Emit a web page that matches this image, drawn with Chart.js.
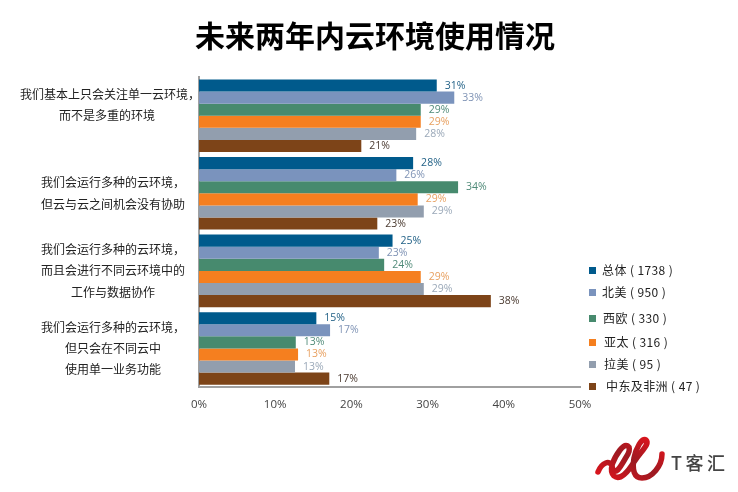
<!DOCTYPE html>
<html>
<head>
<meta charset="utf-8">
<script src="https://cdn.jsdelivr.net/npm/chart.js@4/dist/chart.umd.min.js"></script>
<style>
html, body { margin: 0; padding: 0; background: #fff; overflow: hidden; }
#wrap { position: relative; width: 738px; height: 492px; font-family: "Noto Sans CJK SC", sans-serif; }
#title { position: absolute; left: 0; top: 13px; width: 750px; text-align: center; font-size: 30px; font-weight: 700; line-height: 42px; color: #000; }
.lg { position: absolute; font-size: 12px; line-height: 16px; color: #222; white-space: pre; letter-spacing: 0.4px; }
.sw { position: absolute; width: 7px; height: 7px; }
#logo { position: absolute; left: 590px; top: 432px; }
#logoText { position: absolute; left: 671px; top: 450px; font-size: 18px; font-weight: 500; line-height: 24px; letter-spacing: 3.5px; color: #444; }
</style>
</head>
<body>
<div id="wrap">
  <canvas id="chart" width="738" height="492"></canvas>
  <div id="title">未来两年内云环境使用情况</div>
  <svg id="logo" width="80" height="58" viewBox="0 0 80 58">
    <defs>
      <linearGradient id="logoRed" x1="0" y1="1" x2="1" y2="0">
        <stop offset="0" stop-color="#e0141c"/>
        <stop offset="0.5" stop-color="#9c1a22"/>
        <stop offset="1" stop-color="#e8141c"/>
      </linearGradient>
    </defs>
    <path d="M8 40 C12 30 20 28 22 34 C25 48 33 30 38 22 C42 14 36 10 30 18 C24 26 18 38 24 44 C30 49 38 40 44 30 C52 18 60 12 56 8 C52 5 46 16 44 26 C42 38 44 46 52 46 C62 46 72 34 72 22"
          fill="none" stroke="url(#logoRed)" stroke-width="5.5" stroke-linecap="round"/>
  </svg>
  <div id="logoText">T客汇</div>
</div>
<script>
const categories = [
    ['我们基本上只会关注单一云环境，　', '而不是多重的环境　', ''],
    ['我们会运行多种的云环境，', '但云与云之间机会没有协助'],
    ['我们会运行多种的云环境，', '而且会进行不同云环境中的', '工作与数据协作'],
    ['我们会运行多种的云环境，', '但只会在不同云中', '使用单一业务功能']
];
const xTicks = [0, 10, 20, 30, 40, 50];

const seriesNames = ['总体', '北美', '西欧', '亚太', '拉美', '中东及非洲'];
const seriesCounts = [1738, 950, 330, 316, 95, 47];

// bar lengths
const overall = [31.2, 28.1, 25.4, 15.4];
const northAmerica = [33.5, 25.9, 23.6, 17.2];
const westEurope = [29.1, 34.0, 24.3, 12.7];
const asiaPacific = [29.1, 28.7, 29.1, 13.0];
const latinAmerica = [28.5, 29.5, 29.5, 12.6];
const middleEastAfrica = [21.3, 23.4, 38.3, 17.1];

// percentages as printed beside the bars
const overallLabels = [31, 28, 25, 15];
const northAmericaLabels = [33, 26, 23, 17];
const westEuropeLabels = [29, 34, 24, 13];
const asiaPacificLabels = [29, 29, 29, 13];
const latinAmericaLabels = [28, 29, 29, 13];
const middleEastAfricaLabels = [21, 23, 38, 17];

const colors = ['#005a8c', '#7a93bd', '#478a6e', '#f57f1f', '#929eae', '#7d4418'];
const labelColors = ['#1f5f85', '#7f93b5', '#4f8a78', '#e8a060', '#9aa8b8', '#4a3a30'];

const values = [overall, northAmerica, westEurope, asiaPacific, latinAmerica, middleEastAfrica];
const printed = [overallLabels, northAmericaLabels, westEuropeLabels, asiaPacificLabels, latinAmericaLabels, middleEastAfricaLabels];

// legend rows sit unevenly in the original
const legendY = [270, 292, 318, 342, 364, 386];
const legendX = [602, 602, 603, 604, 604, 606];

const wrap = document.getElementById('wrap');
seriesNames.forEach(function (name, i) {
    const sw = document.createElement('div');
    sw.className = 'sw';
    sw.style.left = '589px';
    sw.style.top = (legendY[i] - 3) + 'px';
    sw.style.background = colors[i];
    wrap.appendChild(sw);
    const t = document.createElement('div');
    t.className = 'lg';
    t.style.left = legendX[i] + 'px';
    t.style.top = (legendY[i] - 8) + 'px';
    t.textContent = name + ' ( ' + seriesCounts[i] + ' )';
    wrap.appendChild(t);
});

const barLabels = {
    id: 'barLabels',
    afterDatasetsDraw: function (chart) {
        const ctx = chart.ctx;
        ctx.save();
        ctx.font = '10.5px "Open Sans", sans-serif';
        ctx.textBaseline = 'middle';
        chart.data.datasets.forEach(function (ds, i) {
            chart.getDatasetMeta(i).data.forEach(function (bar, j) {
                ctx.fillStyle = labelColors[i];
                ctx.fillText(printed[i][j] + '%', bar.x + 8, bar.y);
            });
        });
        ctx.restore();
    }
};

new Chart(document.getElementById('chart').getContext('2d'), {
    type: 'bar',
    data: {
        labels: categories,
        datasets: seriesNames.map(function (name, i) {
            return { label: name, data: values[i], backgroundColor: colors[i], categoryPercentage: 0.935, barPercentage: 1 };
        })
    },
    options: {
        indexAxis: 'y',
        responsive: false,
        animation: false,
        layout: { padding: { top: 77, right: 158, bottom: 69, left: 0 } },
        plugins: { legend: { display: false }, title: { display: false }, tooltip: { enabled: false } },
        scales: {
            x: {
                min: 0,
                max: 50,
                afterBuildTicks: function (axis) { axis.ticks = xTicks.map(function (v) { return { value: v }; }); },
                grid: { display: false, drawTicks: false },
                border: { color: '#a0a0a0', width: 2 },
                ticks: {
                    padding: 11,
                    maxRotation: 0,
                    color: '#444',
                    font: { family: '"Open Sans", sans-serif', size: 11.5 },
                    callback: function (v) { return v + '%'; }
                }
            },
            y: {
                afterFit: function (axis) { axis.width = 199; },
                grid: { display: false, drawTicks: false },
                border: { color: '#a0a0a0', width: 2 },
                ticks: {
                    crossAlign: 'center',
                    padding: -7,
                    color: '#222',
                    font: { family: '"Noto Sans CJK SC", sans-serif', size: 12, lineHeight: 1.78 }
                }
            }
        }
    },
    plugins: [barLabels]
});
</script>
</body>
</html>
